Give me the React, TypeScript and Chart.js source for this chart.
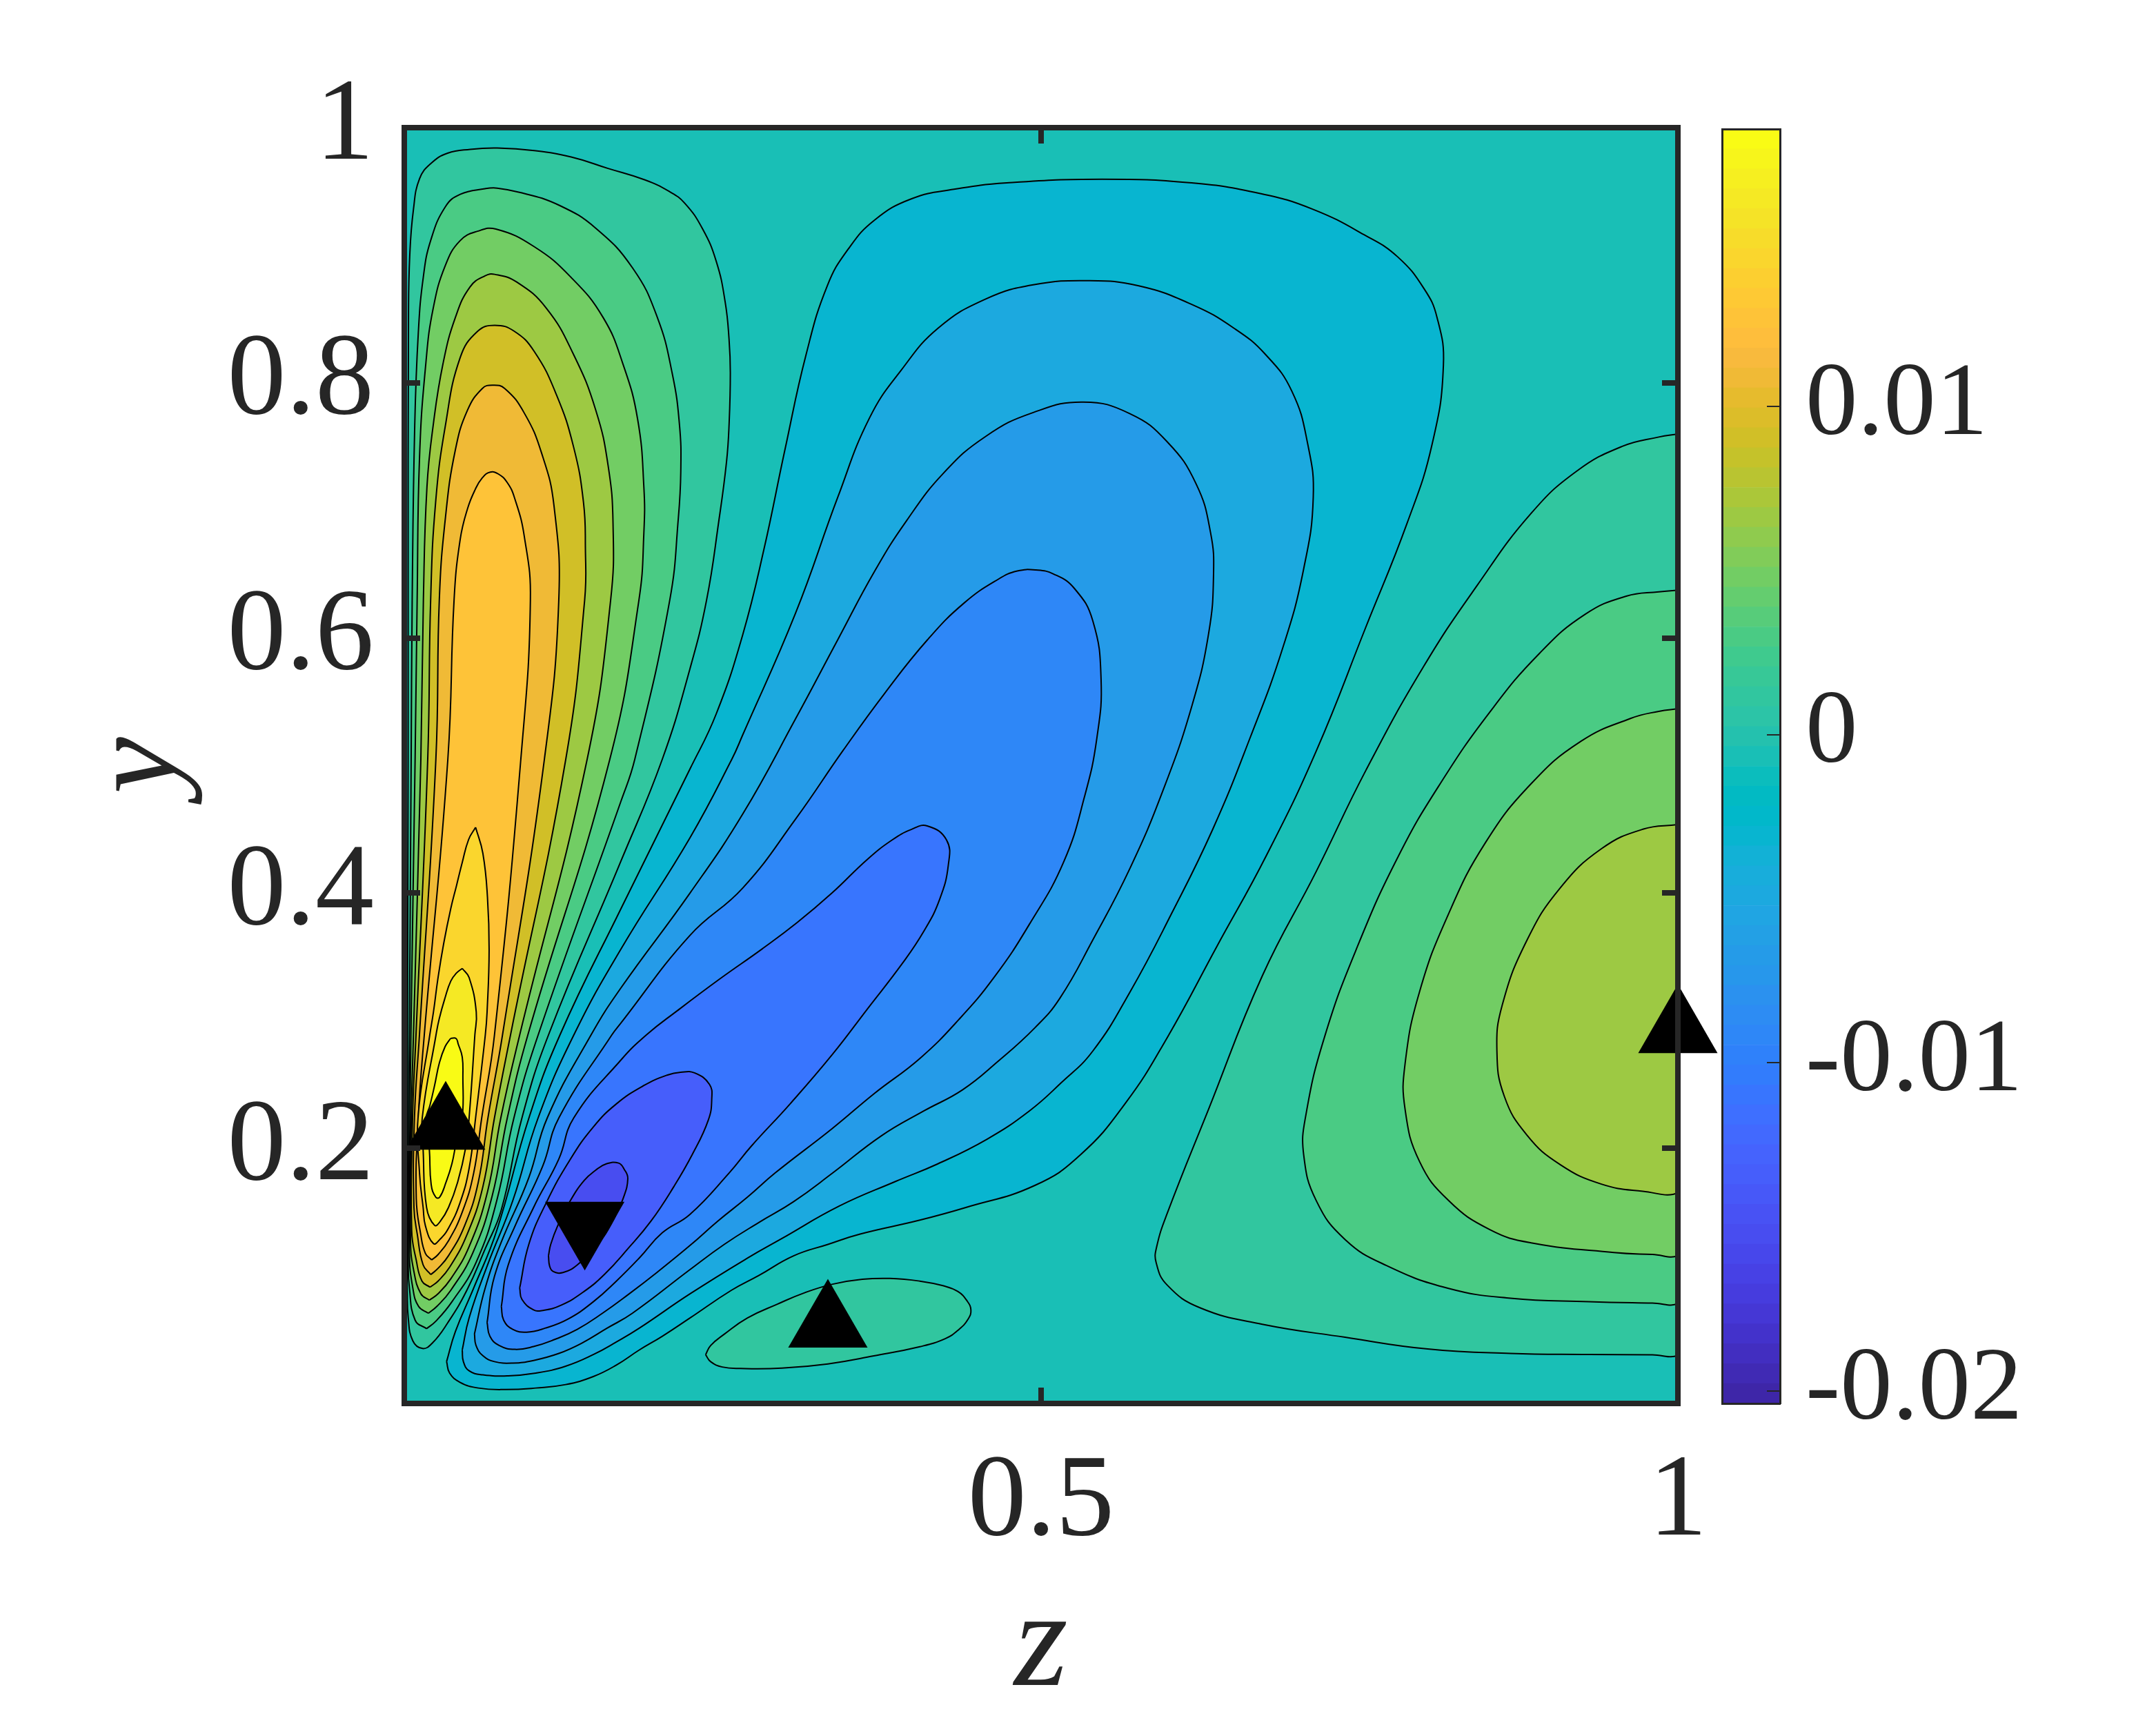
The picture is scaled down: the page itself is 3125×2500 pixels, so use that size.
import React, { useEffect, useRef } from "react";
import { Chart, registerables } from "chart.js";

Chart.register(...registerables);

// ---------- axis labels ----------
const zTickValues = [0.5, 1];
const yTickValues = [0.2, 0.4, 0.6, 0.8, 1];
const colorTickValues = [-0.02, -0.01, 0, 0.01];
const colorMin = -0.02038;
const colorMax = 0.01845;

// ---------- MATLAB parula, 64 entries ----------
const parula = [
  [0.2422,0.1504,0.6603],[0.2504,0.165,0.7076],[0.2578,0.1818,0.7511],[0.2647,0.1978,0.7952],
  [0.2706,0.2147,0.8364],[0.2751,0.2342,0.871],[0.2783,0.2559,0.8991],[0.2803,0.2782,0.9221],
  [0.2813,0.3006,0.9414],[0.281,0.3228,0.9579],[0.2795,0.3447,0.9717],[0.276,0.3667,0.9829],
  [0.2699,0.3892,0.9906],[0.2602,0.4123,0.9952],[0.244,0.4358,0.9988],[0.2206,0.4603,0.9973],
  [0.1963,0.4847,0.9892],[0.1834,0.5074,0.9798],[0.1786,0.5289,0.9682],[0.1764,0.5499,0.952],
  [0.1687,0.5703,0.9359],[0.154,0.5902,0.9218],[0.146,0.6091,0.9079],[0.138,0.6276,0.8973],
  [0.1248,0.6459,0.8883],[0.1113,0.6635,0.8763],[0.0952,0.6798,0.8598],[0.0689,0.6948,0.8394],
  [0.0297,0.7082,0.8163],[0.0036,0.7203,0.7917],[0.0067,0.7312,0.766],[0.0433,0.7411,0.7394],
  [0.0964,0.75,0.712],[0.1408,0.7584,0.6842],[0.1717,0.767,0.6554],[0.1938,0.7758,0.6251],
  [0.2161,0.7843,0.5923],[0.247,0.7918,0.5567],[0.2906,0.7973,0.5188],[0.3406,0.8008,0.4789],
  [0.3909,0.8029,0.4354],[0.4456,0.8024,0.3909],[0.5044,0.7993,0.348],[0.5616,0.7942,0.3045],
  [0.6174,0.7876,0.2612],[0.672,0.7793,0.2227],[0.7242,0.7698,0.191],[0.7738,0.7598,0.1646],
  [0.8203,0.7498,0.1535],[0.8634,0.7406,0.1596],[0.9035,0.733,0.1774],[0.9393,0.7288,0.21],
  [0.9728,0.7298,0.2394],[0.9956,0.7434,0.2371],[0.997,0.7659,0.2199],[0.9952,0.7893,0.2028],
  [0.9892,0.8136,0.1885],[0.9786,0.8386,0.1766],[0.9676,0.8639,0.1643],[0.961,0.889,0.1537],
  [0.9597,0.9135,0.1423],[0.9628,0.9373,0.1265],[0.9691,0.9606,0.1064],[0.9769,0.9839,0.0805],
];

// ---------- contour outlines, in [z, y] ----------
const domain = [[0,0],[1,0],[1,1],[0,1],[0,0]];

const left1 = [[.0022,.0905],[.0025,.2239],[.0025,.2888],[.003,.505],[.003,.63],[.0033,.851],[.0043,.9],[.0072,.936],[.012,.96],[.021,.972],[.034,.98],[.0517,.983],[.073,.984],[.102,.982],[.131,.977],[.16,.968],[.189,.959],[.208,.95],[.22,.941],[.234,.921],[.245,.895],[.252,.863],[.255,.834],[.256,.808],[.255,.767],[.253,.738],[.247,.692],[.2374,.63],[.2243,.5759],[.2026,.505],[.1701,.4251],[.1132,.2888],[.0924,.2239],[.0762,.1518],[.0635,.1212],[.0491,.0887],[.0337,.0626],[.022,.0473],[.0143,.0431],[.0067,.0491],[.0031,.0671],[.0022,.0905]];
const left2 = [[.0175,.0586],[.0085,.0653],[.004,.0905],[.0031,.1086],[.0035,.2239],[.004,.2888],[.0054,.505],[.0062,.63],[.0082,.7667],[.011,.8391],[.0149,.8826],[.0207,.9115],[.0323,.9381],[.0439,.9477],[.0633,.9521],[.073,.9526],[.0923,.9489],[.1213,.9393],[.1503,.9212],[.1794,.8898],[.1987,.8512],[.2103,.8077],[.2161,.7667],[.2171,.7305],[.2152,.6942],[.2084,.6295],[.181,.505],[.1701,.472],[.1051,.2888],[.0861,.2239],[.0726,.159],[.0563,.1104],[.0374,.0797],[.0247,.0644],[.0175,.0586]];
const left3 = [[.0189,.0707],[.0112,.0761],[.0067,.0905],[.004,.1176],[.0045,.2239],[.0052,.2888],[.0085,.505],[.0101,.63],[.012,.7425],[.0169,.815],[.0227,.8584],[.0323,.8922],[.0439,.9115],[.0575,.9188],[.072,.9205],[.102,.9067],[.131,.8826],[.1561,.8512],[.1716,.815],[.1832,.7715],[.1881,.7184],[.1881,.6822],[.1842,.6295],[.1614,.505],[.097,.2888],[.0809,.2239],[.069,.1626],[.0536,.1176],[.0365,.0887],[.0256,.0761],[.0189,.0707]];
const left4 = [[.0197,.081],[.013,.086],[.0076,.1032],[.0049,.1266],[.0055,.2239],[.0072,.2888],[.013,.505],[.015,.63],[.0178,.7184],[.0227,.7667],[.0304,.815],[.0401,.8512],[.0517,.8753],[.0633,.8838],[.071,.885],[.0884,.8789],[.1116,.8584],[.1329,.8222],[.1503,.7787],[.16,.7353],[.1639,.6894],[.162,.6295],[.1436,.505],[.0906,.2888],[.0758,.2239],[.0654,.1662],[.0509,.123],[.0365,.0977],[.0265,.086],[.0197,.081]];
const left5 = [[.0202,.0911],[.0139,.0959],[.0094,.1122],[.0058,.1356],[.0065,.2239],[.0092,.2888],[.0184,.505],[.0207,.63],[.0246,.7063],[.0323,.7667],[.0439,.8198],[.0575,.8403],[.071,.8451],[.0865,.8403],[.102,.8246],[.1194,.7908],[.1329,.7498],[.1407,.7063],[.1422,.6701],[.1416,.6295],[.1268,.505],[.0834,.2888],[.0708,.2239],[.0617,.1699],[.0491,.132],[.0356,.1068],[.0265,.0959],[.0202,.0911]];
const left6 = [[.0208,.101],[.0148,.1086],[.0103,.132],[.0076,.1536],[.008,.2239],[.0119,.2888],[.0248,.505],[.0275,.63],[.0323,.6942],[.0401,.7474],[.0497,.7787],[.0613,.7956],[.0691,.7981],[.0788,.7956],[.0942,.7763],[.1078,.7449],[.1175,.7039],[.1213,.6295],[.11,.505],[.0771,.2888],[.0657,.2239],[.0581,.1735],[.0473,.1392],[.0347,.1158],[.0265,.1059],[.0208,.101]];
const left7 = [[.0215,.1125],[.0166,.1176],[.013,.132],[.0094,.1608],[.011,.2239],[.0157,.2888],[.0342,.505],[.0391,.63],[.0439,.6773],[.0497,.7015],[.0555,.716],[.0613,.7256],[.0675,.73],[.0739,.7285],[.0807,.722],[.0865,.71],[.0942,.6798],[.099,.6295],[.0915,.505],[.0708,.2888],[.0608,.2239],[.0545,.1807],[.0455,.15],[.0347,.1275],[.0265,.1167],[.0215,.1125]];
const left8 = [[.056,.4516],[.0617,.4312],[.0653,.3969],[.0666,.3555],[.065,.3068],[.0636,.2888],[.056,.2239],[.0509,.1843],[.0437,.1572],[.0347,.1374],[.0278,.1284],[.0229,.1253],[.0166,.1392],[.0148,.1536],[.012,.18],[.0108,.2239],[.02,.2888],[.0229,.3068],[.0265,.3338],[.031,.3609],[.0365,.3879],[.041,.4059],[.0455,.424],[.0505,.442],[.056,.4516]];
const left9 = [[.0455,.341],[.0509,.3338],[.0565,.3068],[.0554,.2888],[.0509,.2239],[.0482,.2005],[.0419,.1735],[.0347,.1536],[.0283,.1428],[.0238,.1396],[.0175,.1536],[.0148,.1987],[.0141,.2239],[.0249,.2888],[.0274,.3014],[.0319,.3176],[.0365,.3311],[.041,.3374],[.0455,.341]];
const left10 = [[.0363,.2861],[.0406,.2861],[.0423,.2818],[.0455,.2715],[.046,.2564],[.0455,.2239],[.041,.2059],[.0374,.1879],[.0328,.1735],[.0278,.1617],[.0247,.1617],[.0211,.1717],[.0197,.1987],[.0173,.2239],[.02,.2331],[.0238,.2493],[.0276,.2672],[.032,.2796],[.0363,.2861]];

const lobeBottom = [[.2366,.0382],[.2405,.0328],[.2496,.0286],[.264,.0274],[.2965,.0277],[.3326,.031],[.3687,.0373],[.4048,.0445],[.4247,.0508],[.4355,.058],[.4427,.0661],[.4449,.0733],[.4418,.0805],[.4346,.0878],[.4229,.0923],[.4048,.0959],[.3814,.098],[.3597,.0973],[.3363,.0935],[.3146,.0869],[.2929,.0778],[.2694,.067],[.2514,.0544],[.2405,.0454],[.2366,.0382]];

const right1 = [[1,.7599],[.985,.7575],[.9563,.7502],[.9206,.7308],[.8848,.6977],[.8426,.6415],[.8004,.5777],[.7549,.496],[.716,.4169],[.6737,.3352],[.6315,.2306],[.599,.1489],[.5909,.1234],[.5903,.1106],[.599,.0928],[.625,.0749],[.6737,.0621],[.7387,.0519],[.8036,.0427],[.8686,.0392],[.93,.0384],[.98,.0381],[1,.0381],[1,.05],[1,.75],[1,.7599]];
const right2 = [[1,.6374],[.985,.6362],[.9595,.6328],[.9271,.6185],[.8913,.5879],[.8524,.542],[.8134,.4858],[.7809,.4297],[.7484,.3582],[.7224,.2867],[.7078,.2255],[.7062,.1948],[.716,.1591],[.7387,.1285],[.7712,.1081],[.8199,.0902],[.8686,.0825],[.93,.0798],[.98,.0787],[1,.0785],[1,.09],[1,.625],[1,.6374]];
const right3 = [[1,.5445],[.985,.5425],[.9628,.5369],[.9238,.519],[.8848,.4858],[.8491,.4399],[.8199,.3837],[.7971,.3225],[.7858,.2663],[.7858,.2306],[.7971,.1898],[.8199,.1591],[.8524,.1362],[.8848,.1259],[.9498,.1183],[.98,.1168],[1,.1163],[1,.13],[1,.53],[1,.5445]];
const right4 = [[1,.4537],[.9725,.4501],[.94,.4348],[.9076,.4041],[.8816,.3633],[.8621,.3123],[.8579,.2765],[.8637,.2408],[.8816,.2102],[.9076,.1872],[.94,.1719],[.9725,.1663],[1,.1653],[1,.18],[1,.44],[1,.4537]];

const neg1 = [[.0332,.0328],[.0356,.0238],[.0437,.0166],[.0581,.0121],[.0798,.0109],[.1033,.0121],[.1267,.0148],[.1484,.0211],[.1665,.0301],[.1845,.0419],[.2026,.0527],[.2243,.067],[.2568,.0887],[.2785,.1004],[.3056,.1157],[.3326,.1247],[.3579,.1328],[.4048,.1437],[.4409,.1536],[.4951,.1709],[.5308,.1948],[.5665,.2357],[.599,.2867],[.638,.3582],[.677,.4297],[.716,.5113],[.7549,.6083],[.7874,.69],[.8069,.7513],[.8159,.8139],[.8109,.8512],[.8006,.8739],[.7799,.8988],[.755,.9153],[.7135,.936],[.6721,.9484],[.6182,.9567],[.5477,.9596],[.4731,.9567],[.4316,.9517],[.3984,.9443],[.3694,.9277],[.3487,.905],[.3321,.876],[.3155,.8222],[.2989,.7477],[.2823,.6691],[.2658,.6028],[.245,.5407],[.2243,.4973],[.1701,.3878],[.1222,.2888],[.0979,.2239],[.0726,.1356],[.0545,.0905],[.0401,.0563],[.0332,.0328]];
const neg2 = [[.0455,.0419],[.0464,.0328],[.0509,.0256],[.0617,.0224],[.0816,.0217],[.1033,.0238],[.1267,.0292],[.1484,.0383],[.1665,.0482],[.1845,.059],[.2243,.0859],[.2694,.1139],[.2965,.1293],[.3415,.1547],[.3857,.174],[.4189,.1878],[.4575,.2071],[.4907,.2292],[.5156,.2512],[.5405,.2761],[.5698,.3225],[.6023,.3837],[.6348,.4501],[.664,.5215],[.69,.593],[.7062,.6543],[.7137,.7104],[.7094,.7518],[.697,.7932],[.6762,.8222],[.6513,.8429],[.6182,.8615],[.5767,.876],[.5373,.8801],[.4938,.8768],[.4565,.8657],[.4192,.8429],[.3901,.8098],[.3653,.7725],[.3404,.7104],[.3072,.6194],[.2658,.5242],[.2572,.505],[.2243,.4434],[.1701,.3561],[.1331,.2888],[.1051,.2239],[.0852,.159],[.0654,.1086],[.0509,.0671],[.0455,.0419]];
const neg3 = [[.0551,.0545],[.0563,.0455],[.0617,.0374],[.0708,.0328],[.0852,.0316],[.1015,.0337],[.1213,.0392],[.1394,.0473],[.1592,.059],[.1791,.0707],[.2243,.1049],[.2514,.1248],[.2785,.1419],[.3056,.1581],[.3363,.1806],[.3746,.2098],[.4078,.2292],[.4382,.2457],[.4658,.2678],[.4951,.2944],[.5146,.3174],[.5406,.3633],[.5698,.4195],[.5958,.4807],[.6185,.5471],[.6315,.6032],[.6354,.6492],[.6331,.6823],[.6218,.7206],[.599,.7538],[.5698,.7758],[.5332,.7849],[.4938,.7767],[.4565,.758],[.4233,.7291],[.3943,.6918],[.3694,.6525],[.3404,.5987],[.3072,.5366],[.2658,.4621],[.2243,.4],[.1701,.3257],[.1466,.2888],[.1123,.2239],[.0978,.1771],[.0762,.1266],[.0635,.0905],[.0551,.0545]];
const neg4 = [[.065,.0635],[.0672,.0527],[.0744,.0455],[.087,.0424],[.1015,.0446],[.1177,.05],[.1358,.0581],[.1556,.0707],[.1755,.0851],[.199,.1032],[.2243,.1238],[.246,.1428],[.2694,.1617],[.2911,.1806],[.3359,.2154],[.3691,.243],[.405,.2706],[.4354,.3009],[.4631,.334],[.4907,.3754],[.5178,.4246],[.5341,.4756],[.5438,.5216],[.5471,.5675],[.5406,.6134],[.526,.639],[.5097,.6502],[.4959,.6533],[.4813,.6525],[.4668,.6463],[.4399,.6277],[.4109,.5987],[.3777,.5573],[.3445,.5118],[.3072,.458],[.2658,.4041],[.2243,.3669],[.1701,.2982],[.1629,.2888],[.1214,.2239],[.1087,.1861],[.087,.1392],[.0708,.0996],[.065,.0635]];
const neg5 = [[.0762,.0761],[.078,.0653],[.0852,.0581],[.096,.0559],[.1105,.059],[.1286,.0662],[.1484,.0797],[.1665,.0959],[.1845,.114],[.2026,.1338],[.2243,.1482],[.255,.1806],[.2724,.2016],[.3028,.2347],[.3359,.2733],[.3636,.3092],[.3912,.3451],[.4078,.3699],[.4202,.3947],[.4272,.4223],[.4258,.4416],[.4106,.4527],[.3981,.4499],[.3829,.4416],[.3636,.4265],[.3359,.4002],[.3083,.3768],[.2807,.3561],[.2475,.3326],[.2143,.3078],[.19,.2888],[.1701,.2692],[.1331,.2239],[.1213,.1915],[.1015,.1536],[.0816,.1086],[.0762,.0761]];
const neg6 = [[.0906,.0905],[.0924,.0815],[.1015,.0734],[.1087,.0729],[.1231,.077],[.1412,.0878],[.1574,.1014],[.1755,.1212],[.1936,.1428],[.2116,.1699],[.2261,.1951],[.2387,.2221],[.2414,.2384],[.2396,.2501],[.2279,.2591],[.217,.2596],[.2062,.2573],[.1881,.2492],[.1665,.2348],[.1484,.2167],[.1304,.1915],[.1114,.1572],[.0978,.1248],[.0906,.0905]];
const neg7 = [[.1132,.1158],[.1141,.1077],[.1168,.1035],[.1246,.1026],[.1358,.1086],[.152,.1248],[.1647,.1446],[.1719,.1608],[.1755,.1762],[.1728,.1834],[.1683,.1884],[.1589,.1879],[.1502,.1828],[.1412,.1747],[.1304,.159],[.1204,.1392],[.115,.1248],[.1132,.1158]];

// palette position of the colour filling each outline, painted back to front
const contourLayers = [
  { name: "domain", outline: domain, shade: 32 },
  { name: "left1", outline: left1, shade: 35 },
  { name: "left2", outline: left2, shade: 38 },
  { name: "left3", outline: left3, shade: 41 },
  { name: "left4", outline: left4, shade: 44 },
  { name: "left5", outline: left5, shade: 48 },
  { name: "left6", outline: left6, shade: 51 },
  { name: "left7", outline: left7, shade: 54 },
  { name: "left8", outline: left8, shade: 57 },
  { name: "left9", outline: left9, shade: 60 },
  { name: "left10", outline: left10, shade: 63 },
  { name: "lobeBottom", outline: lobeBottom, shade: 35 },
  { name: "right1", outline: right1, shade: 35 },
  { name: "right2", outline: right2, shade: 38 },
  { name: "right3", outline: right3, shade: 41 },
  { name: "right4", outline: right4, shade: 44 },
  { name: "neg1", outline: neg1, shade: 28 },
  { name: "neg2", outline: neg2, shade: 25 },
  { name: "neg3", outline: neg3, shade: 22 },
  { name: "neg4", outline: neg4, shade: 18 },
  { name: "neg5", outline: neg5, shade: 15 },
  { name: "neg6", outline: neg6, shade: 11 },
  { name: "neg7", outline: neg7, shade: 8 },
];

// ---------- critical-point markers ----------
const maxima = [[0.0325, 0.2169], [0.3326, 0.0617], [1.0, 0.2926]];
const minima = [[0.1417, 0.1401]];

// ---------- drawing constants ----------
const INK = "#262626";
const SERIF = "'Liberation Serif', serif";
const W = 3125;
const H = 2500;
const rgb = (c: number[]) => `rgb(${c.map((v) => Math.round(v * 255)).join(",")})`;
const toXY = (pts: number[][]) => pts.map(([x, y]) => ({ x, y }));

function fixedSize(size: number) {
  return (scale: any) => {
    if (scale.isHorizontal()) scale.height = size;
    else scale.width = size;
  };
}

function setTicks(values: number[]) {
  return (scale: any) => {
    scale.ticks = values.map((value) => ({ value }));
  };
}

function frameAxis(position: string, size: number, values: number[], showLabels: boolean, padding: number, extra: any = {}) {
  return {
    type: "linear",
    position,
    min: 0,
    max: 1,
    afterFit: fixedSize(size),
    afterBuildTicks: setTicks(values),
    grid: { display: true, drawOnChartArea: false, drawTicks: true, tickLength: -23, lineWidth: 8, color: INK, z: 1 },
    border: { display: true, width: 8, color: INK, z: 2 },
    ticks: {
      display: showLabels,
      autoSkip: false,
      maxRotation: 0,
      minRotation: 0,
      padding,
      color: INK,
      font: { family: SERIF, size: 170 },
      callback: (v: number) => String(v),
    },
    ...extra,
  };
}

function colorFrame(position: string, size: number) {
  return {
    type: "linear",
    position,
    min: 0,
    max: 1,
    afterFit: fixedSize(size),
    afterBuildTicks: setTicks([]),
    grid: { display: false },
    border: { display: true, width: 3, color: INK, z: 2 },
    ticks: { display: false },
  };
}

export default function App() {
  const mainRef = useRef<HTMLCanvasElement>(null);
  const barRef = useRef<HTMLCanvasElement>(null);

  useEffect(() => {
    const n = contourLayers.length;
    const layerSets = contourLayers.map((l, i) => ({
      label: l.name,
      data: toXY(l.outline),
      showLine: true,
      fill: "shape",
      tension: l.name === "domain" ? 0 : 0.45,
      backgroundColor: rgb(parula[l.shade]),
      borderColor: l.name === "domain" ? "transparent" : "#000000",
      borderWidth: l.name === "domain" ? 0 : 2,
      pointRadius: 0,
      order: n - i,
    }));
    const markerSets = [
      { label: "maxima", data: toXY(maxima), pointRotation: 0 },
      { label: "minima", data: toXY(minima), pointRotation: 180 },
    ].map((m) => ({
      ...m,
      showLine: false,
      fill: false,
      clip: false,
      pointStyle: "triangle",
      pointRadius: 66.4,
      pointBorderWidth: 0,
      pointBackgroundColor: "#000000",
      order: -1,
    }));

    const main = new Chart(mainRef.current!, {
      type: "scatter",
      data: { datasets: [...layerSets, ...markerSets] as any },
      options: {
        animation: false,
        responsive: false,
        devicePixelRatio: 1,
        layout: { padding: 0 },
        plugins: { legend: { display: false }, tooltip: { enabled: false } },
        scales: {
          x: frameAxis("bottom", H - 2034, zTickValues, true, 66, {
            title: {
              display: true,
              text: "z",
              color: INK,
              font: { family: SERIF, size: 200, style: "italic", lineHeight: 1 },
              padding: { top: 0, bottom: 11 },
            },
          }),
          y: frameAxis("left", 586, yTickValues, true, 67, {
            title: {
              display: true,
              text: "y",
              color: INK,
              font: { family: SERIF, size: 185, style: "italic", lineHeight: 1 },
              padding: { top: 112, bottom: 0 },
            },
          }),
          x2: frameAxis("top", 185, zTickValues, false, 0),
          y2: frameAxis("right", W - 2432, yTickValues, false, 0),
        } as any,
      },
    });

    const bandSpan = (colorMax - colorMin) / parula.length;
    const bar = new Chart(barRef.current!, {
      type: "bar",
      data: {
        labels: ["colour"],
        datasets: parula.map((c, i) => ({
          label: `band${i}`,
          data: [[colorMin + i * bandSpan, colorMin + (i + 1) * bandSpan]],
          backgroundColor: rgb(c),
          barPercentage: 1,
          categoryPercentage: 1,
          grouped: false,
          xAxisID: "cx",
          yAxisID: "cy",
        })) as any,
      },
      options: {
        animation: false,
        responsive: false,
        devicePixelRatio: 1,
        layout: { padding: 0 },
        plugins: { legend: { display: false }, tooltip: { enabled: false } },
        scales: {
          cx: {
            type: "category",
            position: "bottom",
            afterFit: fixedSize(H - 2034),
            grid: { display: false },
            border: { display: true, width: 3, color: INK, z: 2 },
            ticks: { display: false },
          },
          cxTop: { ...colorFrame("top", 187), axis: "x" },
          cyLeft: { ...colorFrame("left", 2496), axis: "y" },
          cy: {
            type: "linear",
            axis: "y",
            position: "right",
            min: colorMin,
            max: colorMax,
            afterFit: fixedSize(W - 2580),
            afterBuildTicks: setTicks(colorTickValues),
            grid: { display: true, drawOnChartArea: false, drawTicks: true, tickLength: -19, lineWidth: 2, color: INK, z: 1 },
            border: { display: true, width: 3, color: INK, z: 2 },
            ticks: {
              display: true,
              autoSkip: false,
              padding: 56,
              color: INK,
              font: { family: SERIF, size: 151 },
              callback: (v: number) => String(v),
            },
          },
        } as any,
      },
    });

    return () => {
      main.destroy();
      bar.destroy();
    };
  }, []);

  const layer: React.CSSProperties = { position: "absolute", left: 0, top: 0, width: W, height: H, display: "block" };
  return (
    <div style={{ position: "absolute", left: 0, top: 0, width: W, height: H, background: "#ffffff", overflow: "hidden" }}>
      <canvas ref={mainRef} width={W} height={H} style={layer} />
      <canvas ref={barRef} width={W} height={H} style={layer} />
    </div>
  );
}
